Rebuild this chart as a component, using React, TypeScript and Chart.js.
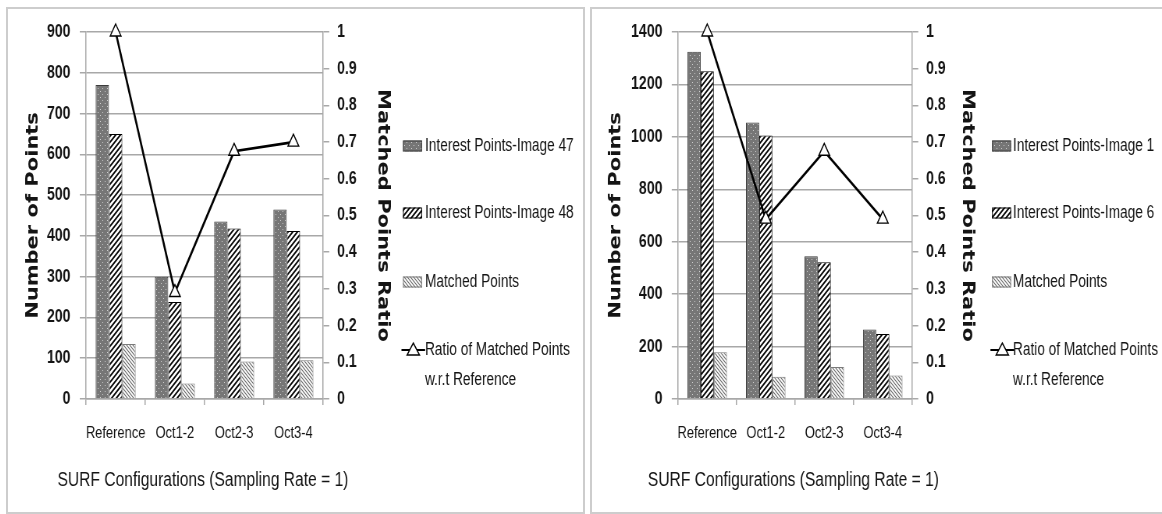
import React, { useEffect, useRef } from 'react';
import { Chart, registerables } from 'chart.js';

Chart.register(...registerables);

// Categories shared by both panels
const categories = ['Reference', 'Oct1-2', 'Oct2-3', 'Oct3-4'];

// Left panel: images 47 / 48
const image47Points = [770, 300, 435, 465];
const image48Points = [650, 238, 418, 412];
const matchedLeft = [135, 38, 92, 95];
const ratioLeft = [1, 0.29, 0.675, 0.7];

// Right panel: images 1 / 6
const image1Points = [1325, 1055, 545, 265];
const image6Points = [1250, 1005, 522, 248];
const matchedRight = [178, 85, 122, 90];
const ratioRight = [1, 0.49, 0.675, 0.49];

// Axis ranges
const leftAxisMax = 900;
const leftAxisStep = 100;
const rightAxisMax = 1400;
const rightAxisStep = 200;
const ratioMax = 1;
const ratioStep = 0.1;

// Texts
const xTitle = 'SURF Configurations (Sampling Rate = 1)';
const yTitle = 'Number of Points';
const y1Title = 'Matched Points Ratio';
const matchedLabel = 'Matched Points';
const ratioLabel = ['Ratio of Matched Points', 'w.r.t Reference'];

const SANS = "'Liberation Sans', Arial, sans-serif";
const WIDE = "'DejaVu Sans', Verdana, sans-serif";
const GRID = '#a8a8a8';
const TEXT = '#141414';

// The canvases are drawn wider than shown and squeezed horizontally by CSS,
// which gives the narrow lettering of the original figure.
const SQUEEZE = 0.78;
const HEIGHT = 501;

function makeTile(size: number, draw: (c: CanvasRenderingContext2D) => void): CanvasPattern {
  const tile = document.createElement('canvas');
  tile.width = size;
  tile.height = size;
  const c = tile.getContext('2d')!;
  draw(c);
  return c.createPattern(tile, 'repeat')!;
}

function dottedPattern() {
  return makeTile(6, (c) => {
    c.fillStyle = '#767676';
    c.fillRect(0, 0, 6, 6);
    c.fillStyle = '#d2d2d2';
    c.fillRect(1, 1, 1, 1);
    c.fillRect(4, 4, 1, 1);
  });
}

function diagonalPattern(size: number, color: string, width: number, forward: boolean) {
  return makeTile(size, (c) => {
    c.fillStyle = '#ffffff';
    c.fillRect(0, 0, size, size);
    c.strokeStyle = color;
    c.lineWidth = width;
    c.beginPath();
    for (let k = -1; k <= 1; k++) {
      if (forward) {
        c.moveTo(k * size - 1, size + 1);
        c.lineTo(k * size + size + 1, -1);
      } else {
        c.moveTo(k * size - 1, -1);
        c.lineTo(k * size + size + 1, size + 1);
      }
    }
    c.stroke();
  });
}

type LegendItem = { kind: 'bar' | 'line'; fill?: CanvasPattern | string; stroke: string; text: string[] };

// Side legend plus the category-axis caption, drawn after the chart
function extras(items: LegendItem[], boxX: number, boxW: number, textX: number, rows: number[], captionY: number) {
  return {
    id: 'sideLegend',
    afterDraw(chart: Chart) {
      const ctx = chart.ctx;
      ctx.save();
      ctx.font = `17.5px ${SANS}`;
      ctx.textBaseline = 'middle';
      ctx.textAlign = 'left';
      items.forEach((it, i) => {
        const y = rows[i];
        if (it.kind === 'bar') {
          ctx.fillStyle = it.fill as any;
          ctx.fillRect(boxX, y - 5.5, boxW, 11);
          ctx.strokeStyle = it.stroke;
          ctx.lineWidth = 1;
          ctx.strokeRect(boxX + 0.5, y - 5, boxW - 1, 10);
        } else {
          const cx = boxX + boxW / 2 + 1;
          ctx.strokeStyle = it.stroke;
          ctx.lineWidth = 2;
          ctx.beginPath();
          ctx.moveTo(boxX - 2, y);
          ctx.lineTo(boxX + boxW + 4, y);
          ctx.stroke();
          ctx.beginPath();
          ctx.moveTo(cx, y - 7);
          ctx.lineTo(cx + 8, y + 5);
          ctx.lineTo(cx - 8, y + 5);
          ctx.closePath();
          ctx.fillStyle = '#ffffff';
          ctx.fill();
          ctx.lineWidth = 1.4;
          ctx.stroke();
        }
        ctx.fillStyle = TEXT;
        it.text.forEach((line, j) => ctx.fillText(line, textX, y + j * 30));
      });

      const area = chart.chartArea;
      ctx.font = `20px ${SANS}`;
      ctx.textAlign = 'center';
      ctx.fillStyle = TEXT;
      ctx.fillText(xTitle, (area.left + area.right) / 2 - 2, captionY);
      ctx.restore();
    },
  };
}

type PanelProps = {
  left: number;
  width: number;
  seriesA: string;
  seriesB: string;
  valuesA: number[];
  valuesB: number[];
  matched: number[];
  ratio: number[];
  yMax: number;
  yStep: number;
  // horizontal placements in shown pixels
  plotLeft: number;
  plotRight: number;
  yTitleX: number;
  y1TitleX: number;
  boxX: number;
  textX: number;
};

function Panel(p: PanelProps) {
  const ref = useRef<HTMLCanvasElement | null>(null);
  const innerW = Math.round(p.width / SQUEEZE);
  const k = innerW / p.width; // shown px -> canvas px

  useEffect(() => {
    const canvas = ref.current;
    if (!canvas) return;
    const dots = dottedPattern();
    const hatch = diagonalPattern(6, '#000000', 1.8, true);
    const fine = diagonalPattern(4, '#6a6a6a', 1.1, false);

    const yWidth = p.plotLeft * k;
    const plotRight = p.plotRight * k;
    const y1Width = 96;
    const padRight = innerW - plotRight - y1Width;
    const titleFont = 21;
    const half = (titleFont * 1.2) / 2;

    const plugin = extras(
      [
        { kind: 'bar', fill: dots, stroke: '#3c3c3c', text: [p.seriesA] },
        { kind: 'bar', fill: hatch, stroke: '#000000', text: [p.seriesB] },
        { kind: 'bar', fill: fine, stroke: '#7a7a7a', text: [matchedLabel] },
        { kind: 'line', stroke: '#000000', text: ratioLabel },
      ],
      p.boxX * k,
      19 * k,
      p.textX * k,
      [137, 204, 273, 341],
      471
    );

    const chart = new Chart(canvas, {
      type: 'bar',
      data: {
        labels: categories,
        datasets: [
          {
            type: 'line',
            label: ratioLabel.join(' '),
            data: p.ratio,
            yAxisID: 'y1',
            borderColor: '#000000',
            borderWidth: 2.6,
            pointStyle: 'triangle',
            pointRadius: 8,
            pointBackgroundColor: '#ffffff',
            pointBorderColor: '#000000',
            pointBorderWidth: 1.4,
            tension: 0,
            clip: false,
            order: 0,
          } as any,
          {
            type: 'bar',
            label: p.seriesA,
            data: p.valuesA,
            yAxisID: 'y',
            backgroundColor: dots,
            borderColor: '#3c3c3c',
            borderWidth: 1,
            order: 1,
          },
          {
            type: 'bar',
            label: p.seriesB,
            data: p.valuesB,
            yAxisID: 'y',
            backgroundColor: hatch,
            borderColor: '#000000',
            borderWidth: 1,
            order: 1,
          },
          {
            type: 'bar',
            label: matchedLabel,
            data: p.matched,
            yAxisID: 'y',
            backgroundColor: fine,
            borderColor: '#7a7a7a',
            borderWidth: 1,
            order: 1,
          },
        ],
      },
      options: {
        animation: false,
        responsive: false,
        maintainAspectRatio: false,
        events: [],
        layout: { padding: { left: 0, top: 23, right: padRight, bottom: 0 } },
        datasets: { bar: { categoryPercentage: 0.675, barPercentage: 1 } },
        plugins: { legend: { display: false }, tooltip: { enabled: false } },
        scales: {
          x: {
            grid: { drawOnChartArea: false, offset: true, tickLength: 6, color: GRID, lineWidth: 1.5 },
            border: { color: GRID, width: 1.5 },
            ticks: { font: { family: SANS, size: 16.5 }, color: TEXT, padding: 19, maxRotation: 0, autoSkip: false },
            afterFit: (s: any) => {
              s.height = 111;
            },
          },
          y: {
            position: 'left',
            min: 0,
            max: p.yMax,
            ticks: {
              stepSize: p.yStep,
              font: { family: SANS, size: 18, weight: 'bold' },
              color: TEXT,
              padding: 12,
              callback: (v: number) => String(v),
            },
            grid: { color: GRID, lineWidth: 1.5, tickLength: 8 },
            border: { color: GRID, width: 1.5 },
            title: {
              display: true,
              text: yTitle,
              font: { family: WIDE, size: titleFont, weight: 'bold' },
              color: TEXT,
              padding: { top: p.yTitleX * k - half, bottom: 0 },
            },
            afterFit: (s: any) => {
              s.width = yWidth;
            },
          },
          y1: {
            position: 'right',
            min: 0,
            max: ratioMax,
            ticks: {
              stepSize: ratioStep,
              font: { family: SANS, size: 18, weight: 'bold' },
              color: TEXT,
              padding: 10,
              callback: (v: number) => String(Math.round(v * 10) / 10),
            },
            grid: { drawOnChartArea: false, color: GRID, lineWidth: 1.5, tickLength: 8 },
            border: { color: GRID, width: 1.5 },
            title: {
              display: true,
              text: y1Title,
              font: { family: WIDE, size: titleFont, weight: 'bold' },
              color: TEXT,
              padding: { top: plotRight + y1Width - p.y1TitleX * k - half, bottom: 0 },
            },
            afterFit: (s: any) => {
              s.width = y1Width;
            },
          },
        },
      } as any,
      plugins: [plugin],
    });
    return () => chart.destroy();
  }, []);

  return (
    <canvas
      ref={ref}
      width={innerW}
      height={HEIGHT}
      style={{ position: 'absolute', left: p.left, top: 9, width: p.width, height: HEIGHT }}
    />
  );
}

export default function App() {
  const frame: React.CSSProperties = {
    position: 'absolute',
    top: 7,
    height: 507,
    border: '2px solid #cdcdcd',
    boxSizing: 'border-box',
    background: '#ffffff',
  };
  return (
    <div style={{ position: 'fixed', left: 0, top: 0, width: 1162, height: 514, overflow: 'hidden', background: '#ffffff' }}>
      <div style={{ ...frame, left: 6, width: 579 }} />
      <div style={{ ...frame, left: 590, width: 620 }} />
      <Panel
        left={8}
        width={574}
        seriesA="Interest Points-Image 47"
        seriesB="Interest Points-Image 48"
        valuesA={image47Points}
        valuesB={image48Points}
        matched={matchedLeft}
        ratio={ratioLeft}
        yMax={leftAxisMax}
        yStep={leftAxisStep}
        plotLeft={78}
        plotRight={315}
        yTitleX={25}
        y1TitleX={375}
        boxX={395}
        textX={417}
      />
      <Panel
        left={593}
        width={569}
        seriesA="Interest Points-Image 1"
        seriesB="Interest Points-Image 6"
        valuesA={image1Points}
        valuesB={image6Points}
        matched={matchedRight}
        ratio={ratioRight}
        yMax={rightAxisMax}
        yStep={rightAxisStep}
        plotLeft={85}
        plotRight={319}
        yTitleX={23}
        y1TitleX={374}
        boxX={399}
        textX={420}
      />
    </div>
  );
}
